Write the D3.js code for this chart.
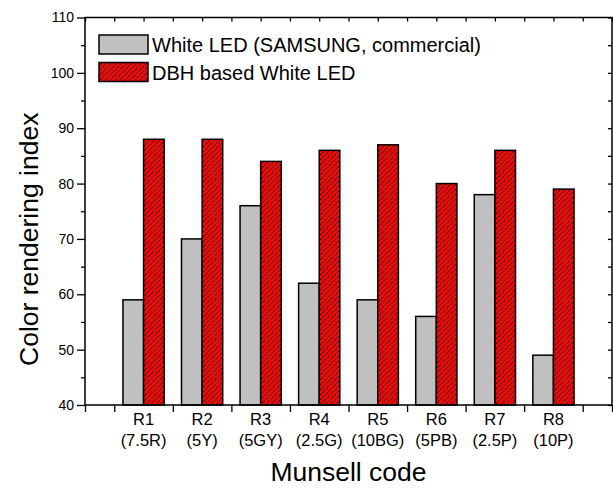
<!DOCTYPE html>
<html>
<head>
<meta charset="utf-8">
<script src="https://cdn.jsdelivr.net/npm/d3@7"></script>
<style>
  html, body { margin: 0; padding: 0; background: #fff; }
  svg { display: block; font-family: "Liberation Sans", Arial, sans-serif; }
</style>
</head>
<body>
<svg id="chart" width="613" height="493"></svg>
<script>
// Colour rendering indices R1–R8 for two white LEDs
const codes = ["R1", "R2", "R3", "R4", "R5", "R6", "R7", "R8"];
const munsell = ["(7.5R)", "(5Y)", "(5GY)", "(2.5G)", "(10BG)", "(5PB)", "(2.5P)", "(10P)"];
const samsungValues = [59, 70, 76, 62, 59, 56, 78, 49];
const dbhValues = [88, 88, 84, 86, 87, 80, 86, 79];
const seriesNames = ["White LED (SAMSUNG, commercial)", "DBH based White LED"];
const yTicks = [40, 50, 60, 70, 80, 90, 100, 110];

const svg = d3.select("#chart");
const M = { left: 85, right: 612, top: 17.5, bottom: 405 };

const x = d3.scaleLinear().domain([0, 9]).range([M.left, M.right]);
const y = d3.scaleLinear().domain([40, 110]).range([M.bottom, M.top]);

// hatch for the DBH bars
const defs = svg.append("defs");
const pat = defs.append("pattern")
  .attr("id", "hatch").attr("patternUnits", "userSpaceOnUse")
  .attr("width", 5).attr("height", 5);
pat.append("rect").attr("width", 5).attr("height", 5).attr("fill", "#ff0000");
pat.append("path").attr("d", "M-1,1 L1,-1 M0,5 L5,0 M4,6 L6,4")
  .attr("stroke", "#000").attr("stroke-width", 0.9);

const barW = x(0.352) - x(0);

// bars
const g = svg.append("g");
g.selectAll("rect.s").data(samsungValues).join("rect")
  .attr("class", "s")
  .attr("x", (d, i) => x(i + 1) - barW)
  .attr("y", d => y(d))
  .attr("width", barW)
  .attr("height", d => y(40) - y(d))
  .attr("fill", "#c0c0c0").attr("stroke", "#000").attr("stroke-width", 1.5);
g.selectAll("rect.d").data(dbhValues).join("rect")
  .attr("class", "d")
  .attr("x", (d, i) => x(i + 1))
  .attr("y", d => y(d))
  .attr("width", barW)
  .attr("height", d => y(40) - y(d))
  .attr("fill", "url(#hatch)").attr("stroke", "#000").attr("stroke-width", 1.5);

// axes
const minorY = d3.range(45, 110, 10);
const yLeft = svg.append("g").attr("transform", `translate(${M.left},0)`)
  .call(d3.axisLeft(y).tickValues(yTicks).tickSize(8).tickPadding(3));
yLeft.selectAll("text").attr("font-size", 14).attr("font-family", "Liberation Sans, Arial");
svg.append("g").attr("transform", `translate(${M.left},0)`)
  .call(d3.axisLeft(y).tickValues(minorY).tickSize(4).tickFormat(""));

svg.append("g").attr("transform", `translate(${M.right},0)`)
  .call(d3.axisLeft(y).tickValues(d3.range(40, 111, 5)).tickSize(4).tickFormat(""));

const halfTicks = [0].concat(d3.range(0.5, 9, 1)).concat([9]);
svg.append("g").attr("transform", `translate(0,${M.bottom})`)
  .call(d3.axisBottom(x).tickValues(halfTicks).tickSize(7).tickFormat(""));
svg.append("g").attr("transform", `translate(0,${M.top})`)
  .call(d3.axisBottom(x).tickValues(d3.range(0, 9.01, 0.5)).tickSize(4).tickFormat(""));

svg.selectAll(".domain").remove();
svg.selectAll(".tick line").attr("stroke", "#000").attr("stroke-width", 1.3);

// frame
svg.append("rect").attr("x", M.left).attr("y", M.top)
  .attr("width", M.right - M.left).attr("height", M.bottom - M.top)
  .attr("fill", "none").attr("stroke", "#000").attr("stroke-width", 1.5);

// category labels
const lab = svg.append("g").attr("font-size", 16.5).attr("text-anchor", "middle").attr("fill", "#000");
lab.selectAll("text.c").data(codes).join("text").attr("class", "c")
  .attr("x", (d, i) => x(i + 1)).attr("y", 425).text(d => d);
lab.selectAll("text.m").data(munsell).join("text").attr("class", "m")
  .attr("x", (d, i) => x(i + 1)).attr("y", 446).text(d => d);

// axis titles
svg.append("text").attr("x", (M.left + M.right) / 2).attr("y", 481)
  .attr("text-anchor", "middle").attr("font-size", 26.5).text("Munsell code");
svg.append("text").attr("transform", `translate(38,${(M.top + M.bottom) / 2 + 28}) rotate(-90)`)
  .attr("text-anchor", "middle").attr("font-size", 26.5).text("Color rendering index");

// legend
const leg = svg.append("g");
const fills = ["#c0c0c0", "url(#hatch)"];
seriesNames.forEach((name, i) => {
  const yy = 35 + i * 27.5;
  leg.append("rect").attr("x", 99).attr("y", yy).attr("width", 49).attr("height", 19)
    .attr("fill", fills[i]).attr("stroke", "#000").attr("stroke-width", 1.5);
  leg.append("text").attr("x", 152).attr("y", yy + 17).attr("font-size", 20).text(name);
});
</script>
</body>
</html>
